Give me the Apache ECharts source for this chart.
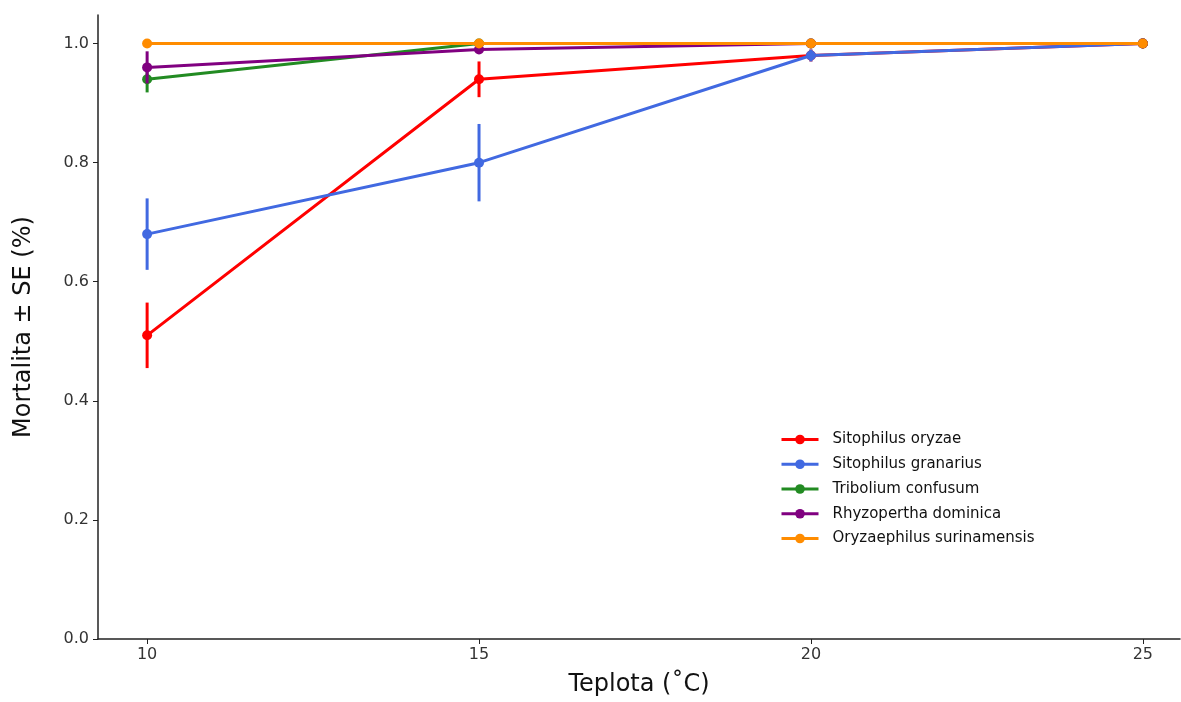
<!DOCTYPE html>
<html>
<head>
<meta charset="utf-8">
<script src="https://cdn.jsdelivr.net/npm/echarts@6/dist/echarts.min.js"></script>
<style>
  html, body { margin: 0; padding: 0; background: #fff; }
  #chart { width: 1181px; height: 702px; }
</style>
</head>
<body>
<div id="chart"></div>
<script>
// teploty a mortalita (prumer, SE)
var temps = [10, 15, 20, 25];
var xTicks = [10, 15, 20, 25];
var yTicks = [0, 0.2, 0.4, 0.6, 0.8, 1.0];

var species = ['Sitophilus oryzae', 'Sitophilus granarius', 'Tribolium confusum', 'Rhyzopertha dominica', 'Oryzaephilus surinamensis'];
var colors = ['#ff0000', '#4169e1', '#228b22', '#800080', '#ff8c00'];

var oryzae = [0.51, 0.94, 0.98, 1.0];
var oryzaeSE = [0.055, 0.03, 0.01, 0];
var granarius = [0.68, 0.80, 0.98, 1.0];
var granariusSE = [0.06, 0.065, 0.01, 0];
var confusum = [0.94, 1.0, 1.0, 1.0];
var confusumSE = [0.022, 0, 0, 0];
var dominica = [0.96, 0.99, 1.0, 1.0];
var dominicaSE = [0.027, 0.005, 0, 0];
var surinamensis = [1.0, 1.0, 1.0, 1.0];
var surinamensisSE = [0, 0, 0, 0];

var means = [oryzae, granarius, confusum, dominica, surinamensis];
var errs = [oryzaeSE, granariusSE, confusumSE, dominicaSE, surinamensisSE];

var chart = echarts.init(document.getElementById('chart'));

var series = [];
species.forEach(function (name, i) {
  var color = colors[i];
  // chybove usecky
  series.push({
    type: 'custom',
    name: name + ' SE',
    data: temps.map(function (t, j) { return [t, means[i][j] - errs[i][j], means[i][j] + errs[i][j]]; }),
    renderItem: function (params, api) {
      var lo = api.coord([api.value(0), api.value(1)]);
      var hi = api.coord([api.value(0), api.value(2)]);
      return {
        type: 'line',
        shape: { x1: lo[0], y1: lo[1], x2: hi[0], y2: hi[1] },
        style: { stroke: color, lineWidth: 3 }
      };
    },
    z: 2 + i * 2,
    silent: true
  });
  series.push({
    type: 'line',
    name: name,
    data: temps.map(function (t, j) { return [t, means[i][j]]; }),
    symbol: 'circle',
    symbolSize: 10,
    showAllSymbol: true,
    lineStyle: { color: color, width: 3 },
    itemStyle: { color: color },
    z: 3 + i * 2
  });
});

var option = {
  backgroundColor: '#fff',
  animation: false,
  grid: { left: 98, right: 1, top: 15, bottom: 59 },
  legend: {
    data: species,
    orient: 'vertical',
    left: 775,
    top: 427,
    itemWidth: 37,
    itemHeight: 12,
    itemGap: 9.75,
    lineStyle: { width: 3 },
    textStyle: { fontSize: 15, color: '#111', fontFamily: 'DejaVu Sans', padding: [0, 0, 0, 9] }
  },
  xAxis: {
    type: 'value',
    min: 9.26,
    max: 25.56,
    name: 'Teplota (˚C)',
    nameLocation: 'middle',
    nameGap: 34,
    nameTextStyle: { fontSize: 24, color: '#111', fontFamily: 'DejaVu Sans' },
    splitLine: { show: false },
    axisLine: { lineStyle: { color: '#222', width: 1.5 } },
    axisTick: { show: true, length: 5, customValues: xTicks, lineStyle: { color: '#222' } },
    axisLabel: { customValues: xTicks, fontSize: 16, color: '#333', margin: 8, fontFamily: 'DejaVu Sans' }
  },
  yAxis: {
    type: 'value',
    min: 0,
    max: 1.048,
    name: 'Mortalita ± SE (%)',
    nameLocation: 'middle',
    nameGap: 62,
    nameTextStyle: { fontSize: 24, color: '#111', fontFamily: 'DejaVu Sans' },
    splitLine: { show: false },
    axisLine: { show: true, lineStyle: { color: '#222', width: 1.5 } },
    axisTick: { show: true, length: 5, customValues: yTicks, lineStyle: { color: '#222' } },
    axisLabel: {
      customValues: yTicks,
      fontSize: 16,
      color: '#333',
      margin: 9,
      fontFamily: 'DejaVu Sans',
      formatter: function (v) { return v.toFixed(1); }
    }
  },
  series: series
};

chart.setOption(option);
</script>
</body>
</html>
